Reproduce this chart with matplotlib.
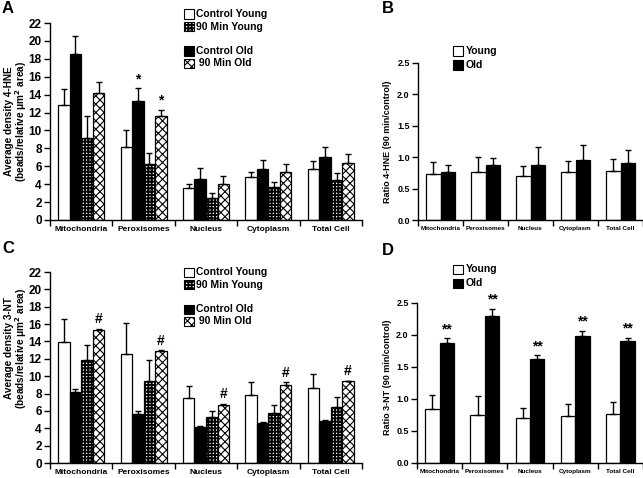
import numpy as np
import matplotlib
matplotlib.use("Agg")
import matplotlib.pyplot as plt
from matplotlib.patches import Rectangle
from matplotlib import font_manager

# ---- data ----
groups = ["Mitochondria", "Peroxisomes", "Nucleus", "Cytoplasm", "Total Cell"]

# A: 4-HNE average density
hne_ctrl_young = [12.85, 8.1, 3.55, 4.75, 5.65]
hne_ctrl_young_err = [1.8, 1.9, 0.45, 0.6, 0.95]
hne_ctrl_old = [18.5, 13.3, 4.55, 5.65, 7.05]
hne_ctrl_old_err = [2.1, 1.4, 1.25, 1.05, 1.1]
hne_90_young = [9.2, 6.2, 2.5, 3.7, 4.45]
hne_90_young_err = [2.4, 1.3, 0.5, 0.55, 0.85]
hne_90_old = [14.2, 11.65, 4.0, 5.4, 6.4]
hne_90_old_err = [1.25, 0.65, 0.9, 0.9, 1.0]

# B: 4-HNE ratio 90 min / control
hne_ratio_young = [0.73, 0.76, 0.70, 0.77, 0.78]
hne_ratio_young_err = [0.20, 0.24, 0.16, 0.17, 0.19]
hne_ratio_old = [0.76, 0.88, 0.88, 0.96, 0.90]
hne_ratio_old_err = [0.12, 0.10, 0.28, 0.24, 0.21]

# C: 3-NT average density
nt_ctrl_young = [13.95, 12.5, 7.45, 7.85, 8.6]
nt_ctrl_young_err = [2.65, 3.6, 1.45, 1.45, 1.7]
nt_ctrl_old = [8.2, 5.7, 4.13, 4.6, 4.86]
nt_ctrl_old_err = [0.3, 0.3, 0.1, 0.08, 0.1]
nt_90_young = [11.9, 9.4, 5.3, 5.8, 6.5]
nt_90_young_err = [1.7, 2.45, 0.7, 0.9, 1.05]
nt_90_old = [15.35, 12.9, 6.7, 9.0, 9.4]
nt_90_old_err = [0.1, 0.1, 0.15, 0.3, 0.1]

# D: 3-NT ratio 90 min / control
nt_ratio_young = [0.85, 0.75, 0.70, 0.73, 0.76]
nt_ratio_young_err = [0.21, 0.29, 0.16, 0.19, 0.19]
nt_ratio_old = [1.87, 2.29, 1.62, 1.99, 1.91]
nt_ratio_old_err = [0.08, 0.12, 0.06, 0.08, 0.05]

hne_stars = [None, "*", None, None, None]   # over Control Old and 90 Min Old
nt_hash = ["#"] * 5                          # over 90 Min Old
nt_ratio_stars = ["**"] * 5                  # over Old

# ---- fonts ----
names = {f.name for f in font_manager.fontManager.ttflist}
narrow = "Liberation Sans Narrow" if "Liberation Sans Narrow" in names else "Liberation Sans"
plt.rcParams["font.family"] = [narrow, "Liberation Sans", "DejaVu Sans"]
plt.rcParams["font.weight"] = "bold"
plt.rcParams["axes.linewidth"] = 1.0

W, H = 643, 478
fig = plt.figure(figsize=(W / 100, H / 100), dpi=100)


def px(x, y):
    return x / W, 1 - y / H


def make_ax(left, right, top, bottom):
    l, b = px(left, bottom)
    r, t = px(right, top)
    return fig.add_axes([l, b, r - l, t - b])


STYLES = {
    "white": dict(facecolor="white", hatch=None, hlw=1.0),
    "black": dict(facecolor="black", hatch=None, hlw=1.0),
    "check": dict(facecolor="white", hatch="+++++", hlw=1.4),
    "zig": dict(facecolor="white", hatch="xxxx", hlw=0.8),
}


def bars(ax, xs, vals, errs, style, width):
    st = STYLES[style]
    with plt.rc_context({"hatch.linewidth": st["hlw"], "hatch.color": "black"}):
        b = ax.bar(xs, vals, width, color=st["facecolor"], edgecolor="black",
                   linewidth=0.9, hatch=st["hatch"], zorder=2)
    ax.errorbar(xs, vals, yerr=[np.zeros(len(vals)), errs], fmt="none",
                ecolor="black", elinewidth=1.0, capsize=2.5, capthick=1.0, zorder=3)
    return b


def style_axis(ax, ymax, ystep, yfmt, ysize, xsize):
    ax.spines["top"].set_visible(False)
    ax.spines["right"].set_visible(False)
    ax.set_xlim(-0.5, len(groups) - 0.5)
    ax.set_ylim(0, ymax)
    yt = np.arange(0, ymax + ystep / 2, ystep)
    ax.set_yticks(yt)
    ax.set_yticklabels([yfmt.format(v) for v in yt], fontsize=ysize)
    ax.tick_params(axis="y", direction="out", length=4, width=1, pad=2)
    ax.set_xticks(np.arange(len(groups)))
    ax.set_xticklabels(groups, fontsize=xsize)
    ax.set_xticks(np.arange(-0.5, len(groups)), minor=True)
    ax.tick_params(axis="x", which="major", length=0, pad=4)
    ax.tick_params(axis="x", which="minor", direction="out", length=4, width=1)


def legend_item(x, y, label, style, size=7.5):
    st = STYLES[style]
    l, b = px(x, y + 4.5)
    with plt.rc_context({"hatch.linewidth": st["hlw"], "hatch.color": "black"}):
        r = Rectangle((l, b), 10 / W, 9 / H, transform=fig.transFigure,
                      facecolor=st["facecolor"], edgecolor="black", linewidth=0.8,
                      hatch=st["hatch"])
    fig.add_artist(r)
    tx, ty = px(x + 12.5, y)
    fig.text(tx, ty, label, fontsize=size, va="center", ha="left")


def marks(ax, xs, vals, errs, labels, dy):
    for x, v, e, s in zip(xs, vals, errs, labels):
        if s:
            ax.text(x, v + e + dy, s, ha="center", va="bottom", fontsize=10)


x = np.arange(len(groups))
w4 = 0.185
off4 = np.array([-1.5, -0.5, 0.5, 1.5]) * w4
w2 = 0.32
off2 = np.array([-0.5, 0.5]) * w2
sup2 = "(beads/relative \u03bcm$^{\\mathbf{2}}$ area)"

# ---- A ----
axA = make_ax(50, 362, 23, 220)
bars(axA, x + off4[0], hne_ctrl_young, hne_ctrl_young_err, "white", w4)
bars(axA, x + off4[1], hne_ctrl_old, hne_ctrl_old_err, "black", w4)
bars(axA, x + off4[2], hne_90_young, hne_90_young_err, "check", w4)
bars(axA, x + off4[3], hne_90_old, hne_90_old_err, "zig", w4)
marks(axA, x + off4[1], hne_ctrl_old, hne_ctrl_old_err, hne_stars, 0.25)
marks(axA, x + off4[3], hne_90_old, hne_90_old_err, hne_stars, 0.25)
style_axis(axA, 22, 2, "{:.0f}", 8.5, 6)
fig.text(*px(9, 121), "Average density 4-HNE", rotation=90, ha="center", va="center", fontsize=7.2)
fig.text(*px(21, 121), sup2, rotation=90, ha="center", va="center", fontsize=7.2)

# ---- B ----
axB = make_ax(418, 643, 63, 220)
bars(axB, x + off2[0], hne_ratio_young, hne_ratio_young_err, "white", w2)
bars(axB, x + off2[1], hne_ratio_old, hne_ratio_old_err, "black", w2)
style_axis(axB, 2.5, 0.5, "{:.1f}", 6.5, 4.6)
fig.text(*px(388, 142), "Ratio 4-HNE (90 min/control)", rotation=90, ha="center", va="center", fontsize=6.5)

# ---- C ----
axC = make_ax(50, 362, 272, 463)
bars(axC, x + off4[0], nt_ctrl_young, nt_ctrl_young_err, "white", w4)
bars(axC, x + off4[1], nt_ctrl_old, nt_ctrl_old_err, "black", w4)
bars(axC, x + off4[2], nt_90_young, nt_90_young_err, "check", w4)
bars(axC, x + off4[3], nt_90_old, nt_90_old_err, "zig", w4)
marks(axC, x + off4[3], nt_90_old, nt_90_old_err, nt_hash, 0.3)
style_axis(axC, 22, 2, "{:.0f}", 8.5, 6)
fig.text(*px(9, 348), "Average density 3-NT", rotation=90, ha="center", va="center", fontsize=7.2)
fig.text(*px(21, 348), sup2, rotation=90, ha="center", va="center", fontsize=7.2)

# ---- D ----
axD = make_ax(417, 643, 303, 463)
bars(axD, x + off2[0], nt_ratio_young, nt_ratio_young_err, "white", w2)
bars(axD, x + off2[1], nt_ratio_old, nt_ratio_old_err, "black", w2)
marks(axD, x + off2[1], nt_ratio_old, nt_ratio_old_err, nt_ratio_stars, 0.03)
style_axis(axD, 2.5, 0.5, "{:.1f}", 6.5, 4.6)
fig.text(*px(388, 377), "Ratio 3-NT (90 min/control)", rotation=90, ha="center", va="center", fontsize=6.5)

# ---- legends ----
for y0 in (14, 272):
    legend_item(184, y0, "Control Young", "white")
    legend_item(184, y0 + 12.5, "90 Min Young", "check")
    legend_item(184, y0 + 37, "Control Old", "black")
    legend_item(184, y0 + 49.5, " 90 Min Old", "zig")
for y0 in (51, 269):
    legend_item(453, y0, "Young", "white")
    legend_item(453, y0 + 14, "Old", "black")

# ---- panel letters ----
for lab, (lx, ly) in zip("ABCD", [(2, 1), (382, 1), (2, 241), (382, 243)]):
    fig.text(*px(lx, ly), lab, fontsize=12, ha="left", va="top", family="Liberation Sans")

fig.savefig("out.png", dpi=100)
